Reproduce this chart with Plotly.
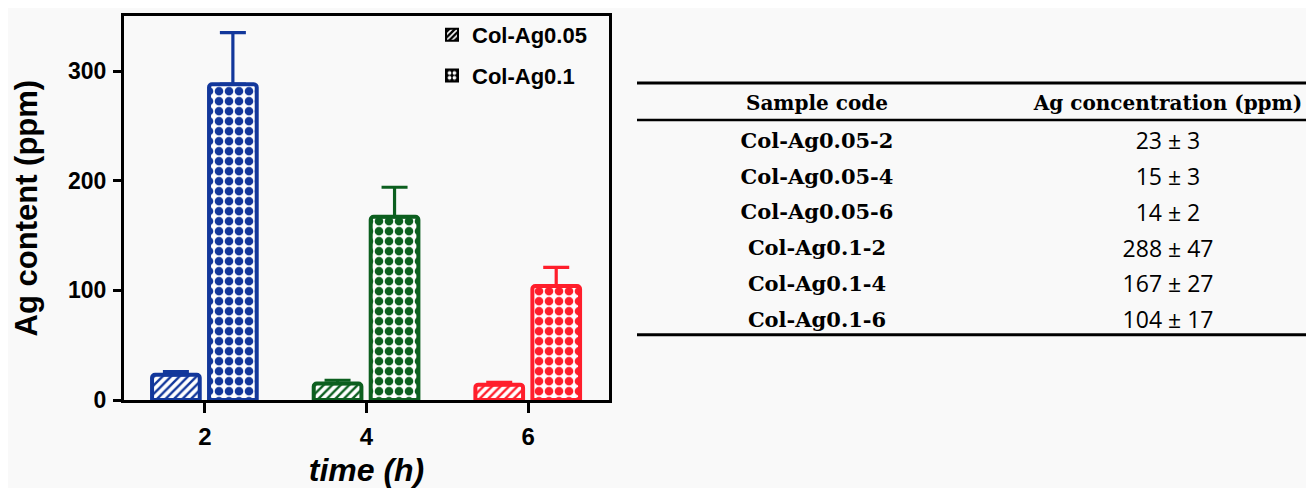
import plotly.graph_objects as go

# ---------------- data ----------------
times = [2, 4, 6]
time_labels = ["2", "4", "6"]
series_names = ["Col-Ag0.05", "Col-Ag0.1"]
ag005 = [23, 15, 14]
ag005_err = [3, 3, 2]
ag01 = [288, 167, 104]
ag01_err = [47, 27, 17]
y_ticks = [0, 100, 200, 300]

table_header = ["Sample code", "Ag concentration (ppm)"]
table_codes = ["Col-Ag0.05-2", "Col-Ag0.05-4", "Col-Ag0.05-6",
               "Col-Ag0.1-2", "Col-Ag0.1-4", "Col-Ag0.1-6"]
table_conc = ["23 ± 3", "15 ± 3", "14 ± 2", "288 ± 47", "167 ± 27", "104 ± 17"]

# ---------------- style ----------------
time_colors = ["#12379b", "#0c5f1f", "#ff1e2b"]
BG = "#f9f9f9"
W, H = 1306, 480
SANS = "Liberation Sans, Arial, sans-serif"


def fx(px):
    return px / W


def fy(py):
    return 1 - py / H


fig = go.Figure()

bar_specs = [
    (ag005, ag005_err, "/", 6, 0.4, -0.653),
    (ag01, ag01_err, ".", 10, 0.58, 0.052),
]
for (vals, errs, shape, psize, psol, off) in bar_specs:
    for t, v, e, c in zip(times, vals, errs, time_colors):
        fig.add_trace(go.Bar(
            x=[t], y=[v], offset=off, width=0.59,
            marker=dict(color="white", cornerradius=3,
                        line=dict(color=c, width=4),
                        pattern=dict(shape=shape, fgcolor=c, bgcolor="white",
                                     size=psize, solidity=psol, fillmode="replace")),
            error_y=dict(type="data", symmetric=False, array=[e], arrayminus=[0],
                         color=c, thickness=3.2, width=13),
            showlegend=False, hoverinfo="skip",
        ))

# legend entries (black swatches like the reference)
for i, (name, shape, psize, psol) in enumerate(
        [(series_names[0], "/", 5, 0.4), (series_names[1], ".", 6, 0.45)]):
    fig.add_trace(go.Bar(
        x=[None], y=[None], name=name, legendgroup=f"g{i}",
        marker=dict(color="black", line=dict(color="black", width=2),
                    pattern=dict(shape=shape, fgcolor="white", bgcolor="black",
                                 size=psize, solidity=psol, fillmode="replace")),
    ))

# ---------------- table ----------------
hdr_top, hdr_h, row_h = 75, 37, 35.8
text_shift = 4
tbl_bottom = hdr_top + hdr_h + row_h * len(table_codes)
fig.add_trace(go.Table(
    domain=dict(x=[fx(604), 1],
                y=[fy(tbl_bottom + text_shift), fy(hdr_top + text_shift)]),
    columnwidth=[410, 292],
    header=dict(values=table_header, height=hdr_h, align="center",
                fill_color="rgba(0,0,0,0)", line_color="rgba(0,0,0,0)",
                font=dict(family="DejaVu Serif", size=20, color="black", weight="bold")),
    cells=dict(values=[table_codes, table_conc], height=row_h, align="center",
               fill_color="rgba(0,0,0,0)", line_color="rgba(0,0,0,0)",
               font=dict(family=["DejaVu Serif", "Open Sans"], size=[21, 23],
                         color="black", weight=["bold", "normal"])),
))

rules = [(hdr_top, 3), (hdr_top + hdr_h, 2.5), (tbl_bottom, 3)]
shapes = [dict(type="line", xref="paper", yref="paper", x0=fx(629), x1=1,
               y0=fy(yp), y1=fy(yp), line=dict(color="black", width=w))
          for yp, w in rules]

fig.update_layout(
    width=W, height=H,
    margin=dict(l=0, r=0, t=0, b=0, autoexpand=False),
    paper_bgcolor=BG, plot_bgcolor=BG,
    barmode="overlay",
    font=dict(family=SANS, color="black"),
    shapes=shapes,
    showlegend=True,
    legend=dict(x=fx(424), y=fy(6), xanchor="left", yanchor="top",
                bgcolor="rgba(0,0,0,0)", tracegroupgap=9,
                font=dict(family=SANS, size=22, weight="bold")),
    xaxis=dict(domain=[fx(116), fx(601)], range=[1, 7], automargin=False,
               tickvals=times, ticktext=time_labels,
               showline=True, linewidth=3, linecolor="black", mirror=True,
               ticks="outside", ticklen=10, tickwidth=3, tickcolor="black",
               ticklabelstandoff=3,
               showgrid=False, zeroline=False,
               tickfont=dict(family=SANS, size=24, weight="bold"),
               title=dict(text="time (h)", standoff=18,
                          font=dict(family=SANS, size=32, weight="bold", style="italic"))),
    yaxis=dict(domain=[fy(392), fy(8.2)], range=[0, 350], automargin=False,
               tickvals=y_ticks,
               showline=True, linewidth=3, linecolor="black", mirror=True,
               ticks="outside", ticklen=8, tickwidth=3, tickcolor="black",
               ticklabelstandoff=2,
               showgrid=False, zeroline=False,
               tickfont=dict(family=SANS, size=23, weight="bold"),
               title=dict(text="Ag content (ppm)", standoff=22,
                          font=dict(family=SANS, size=31, weight="bold"))),
)

fig.write_html("out.html")
